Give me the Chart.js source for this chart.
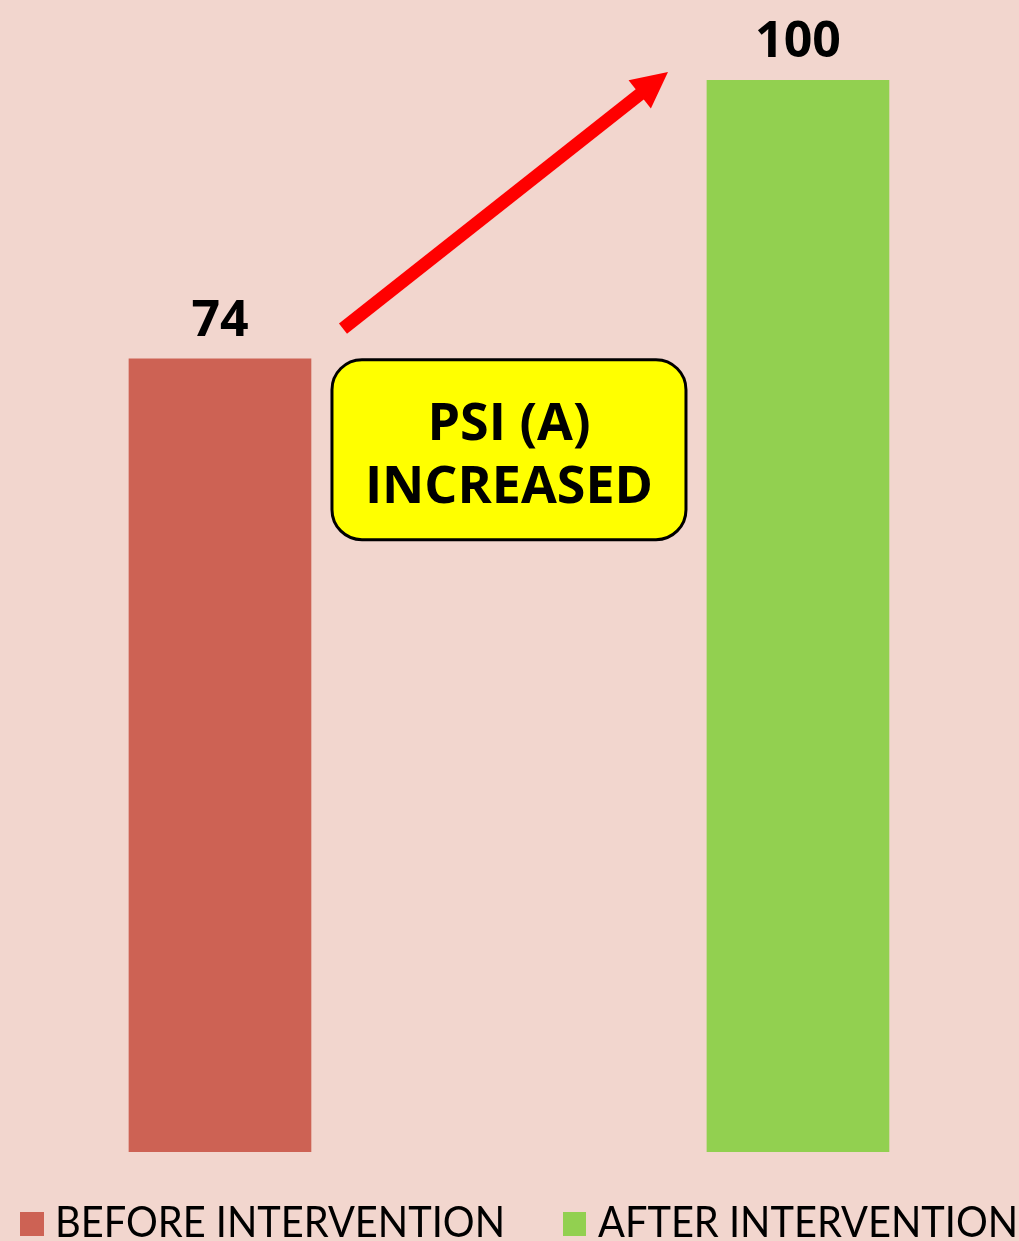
<!DOCTYPE html>
<html>
<head>
<meta charset="utf-8">
<title>PSI (A)</title>
<script src="https://cdn.jsdelivr.net/npm/chart.js@4.4.1/dist/chart.umd.min.js"></script>
<style>
  html, body { margin: 0; padding: 0; background: #F2D6CE; }
  #wrap { width: 1019px; height: 1241px; position: relative; }
</style>
</head>
<body>
<div id="wrap"><canvas id="chart"></canvas></div>
<script>
'use strict'

var categories = ['BEFORE INTERVENTION', 'AFTER INTERVENTION'];
var values = [74, 100];
var positions = [0, 1];
var barColors = ['#CD6254', '#92D050'];
var calloutLines = ['PSI (A)', 'INCREASED'];

var BG = '#F2D6CE';

// fond rose de toute la zone
var background = {
	id: 'background',
	beforeDraw: function (chart) {
		var ctx = chart.ctx;
		ctx.save();
		ctx.fillStyle = BG;
		ctx.fillRect(0, 0, chart.width, chart.height);
		ctx.restore();
	}
};

// valeurs au-dessus des barres
var valueLabels = {
	id: 'valueLabels',
	afterDatasetsDraw: function (chart) {
		var ctx = chart.ctx;
		ctx.save();
		ctx.font = '700 50px "Open Sans", "DejaVu Sans", sans-serif';
		ctx.fillStyle = '#000';
		ctx.textAlign = 'center';
		ctx.textBaseline = 'alphabetic';
		chart.data.datasets.forEach(function (ds, i) {
			var bar = chart.getDatasetMeta(i).data[0];
			ctx.fillText(String(ds.data[0].y), bar.x, bar.y - 23);
		});
		ctx.restore();
	}
};

// flèche rouge + encadré jaune
var callout = {
	id: 'callout',
	afterDraw: function (chart) {
		var ctx = chart.ctx,
			b1 = chart.getDatasetMeta(0).data[0],
			b2 = chart.getDatasetMeta(1).data[0];

		var x0 = b1.x + b1.width / 2 + 32, y0 = b1.y - 30,
			x1 = b2.x - b2.width / 2 - 39, y1 = b2.y - 8;
		var ang = Math.atan2(y1 - y0, x1 - x0),
			head = 36, half = 18;
		var bx = x1 - head * Math.cos(ang), by = y1 - head * Math.sin(ang);

		ctx.save();
		ctx.strokeStyle = '#FF0000';
		ctx.fillStyle = '#FF0000';
		ctx.lineWidth = 13;
		ctx.lineCap = 'butt';
		ctx.beginPath();
		ctx.moveTo(x0, y0);
		ctx.lineTo(bx + 4 * Math.cos(ang), by + 4 * Math.sin(ang));
		ctx.stroke();
		ctx.beginPath();
		ctx.moveTo(x1, y1);
		ctx.lineTo(bx + half * Math.sin(ang), by - half * Math.cos(ang));
		ctx.lineTo(bx - half * Math.sin(ang), by + half * Math.cos(ang));
		ctx.closePath();
		ctx.fill();
		ctx.restore();

		// encadré centré entre les deux barres
		var cx = (b1.x + b1.width / 2 + b2.x - b2.width / 2) / 2,
			w = 354, h = 180, top = b1.y + 1, left = cx - w / 2;
		ctx.save();
		ctx.beginPath();
		ctx.roundRect(left, top, w, h, 30);
		ctx.fillStyle = '#FFFF00';
		ctx.fill();
		ctx.lineWidth = 3;
		ctx.strokeStyle = '#000';
		ctx.stroke();
		ctx.fillStyle = '#000';
		ctx.font = '700 52px "Open Sans", "DejaVu Sans", sans-serif';
		ctx.textAlign = 'center';
		ctx.textBaseline = 'alphabetic';
		ctx.fillText(calloutLines[0], cx, top + 80);
		ctx.fillText(calloutLines[1], cx, top + 143);
		ctx.restore();
	}
};

// légende en bas, texte fin et étroit
var bottomLegend = {
	id: 'bottomLegend',
	afterDraw: function (chart) {
		var ctx = chart.ctx,
			y = chart.height - 4,
			x = 20,
			box = 24;
		ctx.save();
		ctx.font = '400 42px Lato, "DejaVu Sans", sans-serif';
		var squeeze = 450 / ctx.measureText(categories[0]).width;
		chart.data.datasets.forEach(function (ds, i) {
			ctx.fillStyle = ds.backgroundColor;
			ctx.fillRect(x, y - box - 1, box - (i ? 1 : 0), box);
			x += box + 11;
			var tw = ctx.measureText(ds.label).width * squeeze;
			ctx.save();
			ctx.translate(x, y);
			ctx.scale(squeeze, 1);
			ctx.fillStyle = '#000';
			ctx.textBaseline = 'alphabetic';
			ctx.fillText(ds.label, 0, 0);
			ctx.restore();
			x += tw + 58;
		});
		ctx.restore();
	}
};

var datasets = categories.map(function (label, i) {
	return {
		label: label,
		data: [{ x: positions[i], y: values[i] }],
		backgroundColor: barColors[i],
		barThickness: 182,
		grouped: false
	};
});

new Chart(document.getElementById('chart'), {
	type: 'bar',
	data: { datasets: datasets },
	options: {
		responsive: true,
		maintainAspectRatio: false,
		animation: false,
		layout: { padding: { top: 80, bottom: 89, left: 0, right: 0 } },
		plugins: {
			legend: { display: false },
			tooltip: { enabled: false }
		},
		scales: {
			x: { type: 'linear', display: false, offset: false, min: -0.3806, max: 1.3824 },
			y: { display: false, min: 0, max: 100 }
		}
	},
	plugins: [background, valueLabels, callout, bottomLegend]
});
</script>
</body>
</html>
